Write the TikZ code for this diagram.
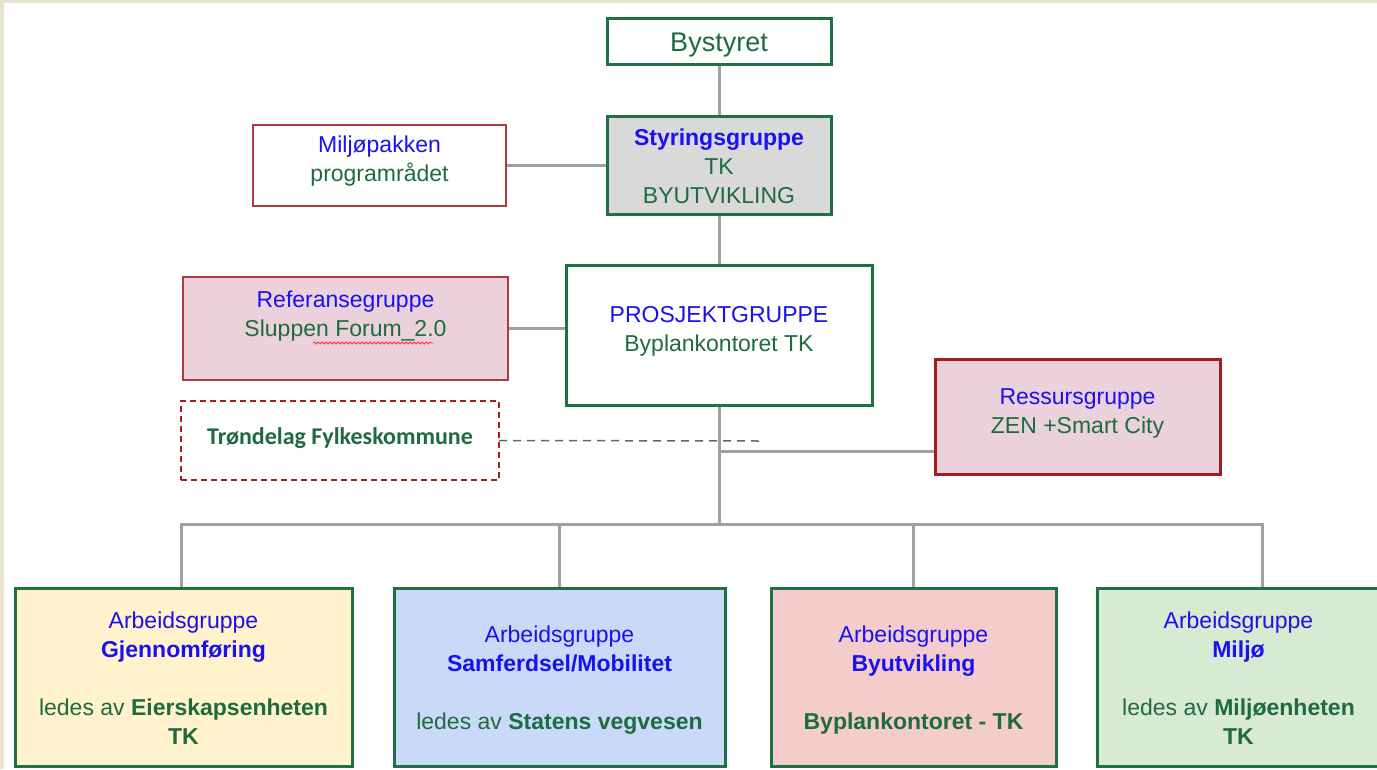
\documentclass[tikz,border=0pt]{standalone}
\usepackage{fontspec}
\setmainfont{Liberation Sans}
\newfontfamily\calib{Carlito}
\usetikzlibrary{decorations.pathmorphing}
\definecolor{gborder}{HTML}{1E7145}
\definecolor{gtext}{HTML}{1E6B40}
\definecolor{btext}{HTML}{1A10F0}
\definecolor{rborder}{HTML}{B23A3A}
\definecolor{dred}{HTML}{A61C1C}
\definecolor{pinkfill}{HTML}{EAD1DC}
\definecolor{grayfill}{HTML}{D9D9D9}
\definecolor{linegray}{HTML}{A0A0A0}
\definecolor{yfill}{HTML}{FFF2CC}
\definecolor{bfill}{HTML}{C9DAF8}
\definecolor{rfill}{HTML}{F4CCCC}
\definecolor{gfill}{HTML}{D9EAD3}
\definecolor{dashgray}{HTML}{666666}
\definecolor{beige}{HTML}{E9E4D2}
\pgfdeclarelayer{bg}
\pgfdeclarelayer{conns}
\pgfsetlayers{bg,conns,main}
\newcommand{\bl}[1]{{\color{btext}#1}}
\begin{document}
\begin{tikzpicture}[x=1pt,y=-1pt,
  every node/.style={inner sep=0pt, outer sep=0pt, align=center, text=gtext,
    font=\fontsize{23}{29}\selectfont},
  gbox/.style={draw=gborder, line width=3pt, rectangle},
  rbox/.style={draw=rborder, line width=1.8pt, rectangle},
  wbox/.style={gbox, minimum height=178pt},
  conn/.style={draw=linegray, line width=3pt}]
\begin{pgfonlayer}{bg}
\fill[white] (0,0) rectangle (1377,769);
\fill[beige] (0,0) rectangle (1377,3);
\fill[beige] (0,0) rectangle (4,769);
\end{pgfonlayer}
\useasboundingbox (0,0) rectangle (1377,769);

% boxes
\node[gbox, fill=white, minimum width=224pt, minimum height=46pt] (by) at (719,41) {};
\node[gbox, fill=grayfill, minimum width=224pt, minimum height=98pt] (sg) at (719,165) {};
\node[rbox, fill=white, minimum width=253pt, minimum height=81pt] (mp) at (379.5,165.5) {};
\node[rbox, fill=pinkfill, minimum width=325pt, minimum height=103pt] (rg) at (345.5,328.5) {};
\node[gbox, fill=white, minimum width=306pt, minimum height=140pt] (pg) at (719,335) {};
\node[draw=dred, line width=1.8pt, dash pattern=on 6pt off 4pt, minimum width=318pt,
  minimum height=79pt] (tf) at (340,440.5) {};
\node[draw=dred, line width=3pt, fill=pinkfill, minimum width=285pt, minimum height=115pt]
  (rs) at (1077.5,416.5) {};
\node[wbox, fill=yfill, minimum width=337pt] (w1) at (183.5,677) {};
\node[wbox, fill=bfill, minimum width=331pt] (w2) at (559.5,677) {};
\node[wbox, fill=rfill, minimum width=285pt] (w3) at (913.5,677) {};
\node[wbox, fill=gfill, minimum width=283pt] (w4) at (1238.5,677) {};

% texts
\node[font=\fontsize{27}{29}\selectfont] (byt) at (719,45) {Bystyret};
\node (sgt) at (719,166) {\bl{\bfseries Styringsgruppe}\\TK\\BYUTVIKLING};
\node (mpt) at (379.5,161.5) {\bl{Miljøpakken}\\programrådet};
\node (rgt) at (345.5,316.5) {\bl{Referansegruppe}\\Sluppen Forum\_2.0};
\node (pgt) at (719,331) {\bl{PROSJEKTGRUPPE}\\Byplankontoret TK};
\node[font=\calib\bfseries\fontsize{24}{28}\selectfont] (tft) at (340,438.5)
  {Trøndelag Fylkeskommune};
\node (rst) at (1077.5,413.5) {\bl{Ressursgruppe}\\ZEN +Smart City};
\node (w1t) at (183.5,678)
  {\bl{Arbeidsgruppe}\\\bl{\bfseries Gjennomføring}\\\strut\\ledes av \textbf{Eierskapsenheten}\\\textbf{TK}};
\node (w2t) at (559.5,680.5)
  {\bl{Arbeidsgruppe}\\\bl{\bfseries Samferdsel/Mobilitet}\\\strut\\ledes av \textbf{Statens vegvesen}};
\node (w3t) at (913.5,680.5)
  {\bl{Arbeidsgruppe}\\\bl{\bfseries Byutvikling}\\\strut\\\textbf{Byplankontoret - TK}};
\node (w4t) at (1238.5,678)
  {\bl{Arbeidsgruppe}\\\bl{\bfseries Miljø}\\\strut\\ledes av \textbf{Miljøenheten}\\\textbf{TK}};

% spell-check squiggle
\draw[red!80, line width=0.8pt, decorate, decoration={snake, amplitude=1pt, segment length=4pt}]
  (313,343) -- (433,343);

\coordinate (dashend) at (760,441);
\coordinate (rj) at (719,451);
\coordinate (bus) at (719,524);
\coordinate (w1c) at ([xshift=-2.5pt]w1.north);
\coordinate (w4c) at ([xshift=23.5pt]w4.north);

\begin{pgfonlayer}{conns}
\draw[conn] (by.south) -- (sg.north);
\draw[conn] (sg.south) -- (pg.north);
\draw[conn] (mp.east) -- (mp.east -| sg.west);
\draw[conn] (rg.east) -- (rg.east -| pg.west);
\draw[conn] (pg.south) -- (bus);
\draw[conn] (rj) -- (rj -| rs.west);
\draw[conn] (w1c) |- (bus) -| (w4c);
\draw[conn] (bus -| w2.north) -- (w2.north);
\draw[conn] (bus -| w3.north) -- (w3.north);
\draw[dashgray, line width=1.5pt, dash pattern=on 8pt off 6pt] (tf.east) -- (dashend);
\end{pgfonlayer}
\end{tikzpicture}
\end{document}
